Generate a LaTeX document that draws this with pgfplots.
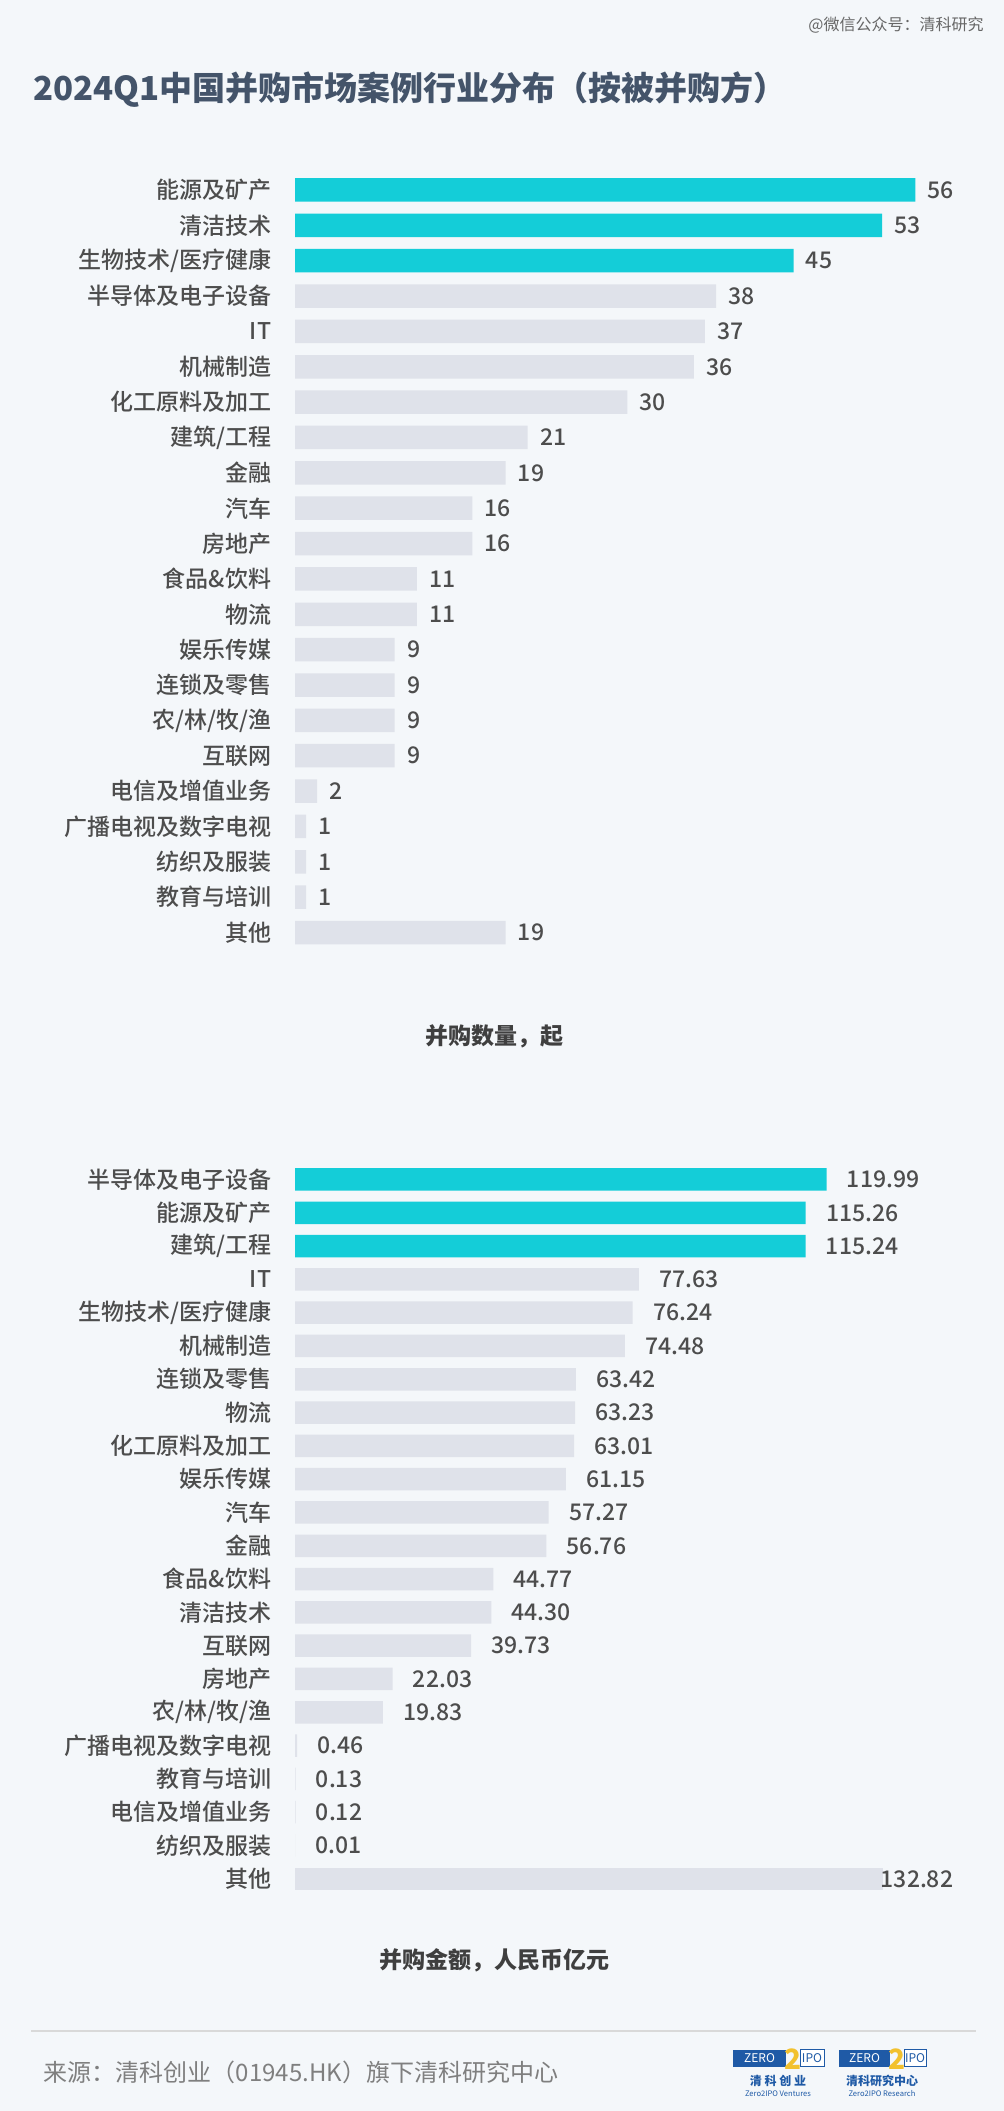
\documentclass[border=0pt]{standalone}
\usepackage{fontspec}
\setmainfont{Noto Sans CJK SC}
\newfontfamily\medfont{Noto Sans CJK SC Medium}
\usepackage{pgfplots}
\pgfplotsset{compat=1.18}
\definecolor{bgc}{HTML}{F4F7FA}
\definecolor{teal}{HTML}{14CDD8}
\definecolor{barg}{HTML}{DFE2EA}
\definecolor{labc}{HTML}{4D4D4D}
\definecolor{axc}{HTML}{3F3F3F}
\definecolor{titc}{HTML}{44546A}
\definecolor{footc}{HTML}{7F7F7F}
\definecolor{sepc}{HTML}{D9D9D9}
\definecolor{logob}{HTML}{1F5AA6}
\definecolor{logoy}{HTML}{F2C12E}
\pgfplotsset{
  mybars/.style={
    xbar, bar shift=0pt, scale only axis, clip=false,
    y dir=reverse, ymin=-0.5, ymax=21.5, ytick={0,...,21},
    xmin=0, enlargelimits=false,
    axis line style={draw=none}, tick style={draw=none},
    xtick=\empty,
    yticklabel style={font=\fontsize{11.5}{12}\selectfont\medfont, text=labc, inner sep=0pt, anchor=east, xshift=-7.5pt},
    point meta=x,
    nodes near coords,
    /pgf/number format/assume math mode=true,
    every node near coord/.append style={font=\fontsize{11.5}{12}\selectfont\medfont, text=labc, inner sep=0pt, anchor=west},
  }
}
\begin{document}
\begin{tikzpicture}
\fill[bgc] (0,0) rectangle (502pt,1055.5pt);
% watermark
\node[font=\fontsize{8}{9}\selectfont, text=black!60, anchor=center] at (448pt,1042.75pt) {@微信公众号：清科研究};
% title
\node[font=\fontsize{16.5}{18}\selectfont\bfseries, text=titc, anchor=west, inner sep=0pt] at (16.5pt,1010.5pt) {2024Q1中国并购市场案例行业分布（按被并购方）};
% top chart
\begin{axis}[mybars,
  at={(147.5pt,969.35pt)}, anchor=north west,
  width=332.4pt, height=388.96pt, xmax=60,
  bar width=0.665,
  /pgf/number format/.cd, fixed, precision=0, /pgfplots/.cd,
  every node near coord/.append style={xshift=6pt},
  yticklabels={能源及矿产,清洁技术,生物技术/医疗健康,半导体及电子设备,IT,机械制造,化工原料及加工,建筑/工程,金融,汽车,房地产,食品\&饮料,物流,娱乐传媒,连锁及零售,农/林/牧/渔,互联网,电信及增值业务,广播电视及数字电视,纺织及服装,教育与培训,其他},
]
\addplot[fill=teal, draw=none] coordinates {(56,0) (53,1) (45,2)};
\addplot[fill=barg, draw=none] coordinates {(38,3) (37,4) (36,5) (30,6) (21,7) (19,8) (16,9) (16,10) (11,11) (11,12) (9,13) (9,14) (9,15) (9,16) (2,17) (1,18) (1,19) (1,20) (19,21)};
\end{axis}
\node[font=\fontsize{11.5}{12}\selectfont\bfseries, text=axc] at (247.25pt,537.5pt) {并购数量，起};
% bottom chart
\begin{axis}[mybars,
  at={(147.5pt,474.08pt)}, anchor=north west,
  width=332.25pt, height=366.3pt, xmax=150,
  bar width=0.676,
  /pgf/number format/.cd, fixed, fixed zerofill, precision=2, /pgfplots/.cd,
  yticklabels={半导体及电子设备,能源及矿产,建筑/工程,IT,生物技术/医疗健康,机械制造,连锁及零售,物流,化工原料及加工,娱乐传媒,汽车,金融,食品\&饮料,清洁技术,互联网,房地产,农/林/牧/渔,广播电视及数字电视,教育与培训,电信及增值业务,纺织及服装,其他},
]
\addplot[fill=teal, draw=none, every node near coord/.append style={xshift=10pt}] coordinates {(119.99,0) (115.26,1) (115.24,2)};
\addplot[fill=barg, draw=none, every node near coord/.append style={xshift=10pt}] coordinates {(77.63,3) (76.24,4) (74.48,5) (63.42,6) (63.23,7) (63.01,8) (61.15,9) (57.27,10) (56.76,11) (44.77,12) (44.30,13) (39.73,14) (22.03,15) (19.83,16) (0.46,17) (0.13,18) (0.12,19) (0.01,20)};
\addplot[fill=barg, draw=none, every node near coord/.append style={xshift=-1.5pt}] coordinates {(132.82,21)};
\end{axis}
\node[font=\fontsize{11.5}{12}\selectfont\bfseries, text=axc] at (247pt,75.1pt) {并购金额，人民币亿元};
% footer
\draw[sepc, line width=1pt] (15.5pt,40pt) -- (488pt,40pt);
\node[font=\fontsize{12}{13}\selectfont, text=footc, anchor=west, inner sep=0pt] at (21.75pt,19.5pt) {来源：清科创业（01945.HK）旗下清科研究中心};
% logo 1
\fill[logob] (366.5pt,22pt) rectangle (393pt,30.5pt);
\node[font=\fontsize{6}{6}\selectfont, text=white, inner sep=0pt] at (379.75pt,26.25pt) {ZERO};
\draw[logob, fill=white, line width=0.5pt] (400pt,22pt) rectangle (412pt,30.5pt);
\node[font=\fontsize{6}{6}\selectfont, text=logob, inner sep=0pt] at (406pt,26.25pt) {IPO};
\node[font=\fontsize{14}{14}\selectfont\bfseries, text=logoy, inner sep=0pt] at (396.5pt,26pt) {2};
\node[font=\fontsize{6}{6}\selectfont\bfseries, text=logob, inner sep=0pt] at (389pt,15pt) {清 科 创 业};
\node[font=\fontsize{3.8}{4}\selectfont, text=logob, inner sep=0pt] at (389pt,8.75pt) {Zero2IPO Ventures};
% logo 2
\fill[logob] (419.5pt,22pt) rectangle (445pt,30.5pt);
\node[font=\fontsize{6}{6}\selectfont, text=white, inner sep=0pt] at (432.25pt,26.25pt) {ZERO};
\draw[logob, fill=white, line width=0.5pt] (452pt,22pt) rectangle (463pt,30.5pt);
\node[font=\fontsize{6}{6}\selectfont, text=logob, inner sep=0pt] at (457.5pt,26.25pt) {IPO};
\node[font=\fontsize{14}{14}\selectfont\bfseries, text=logoy, inner sep=0pt] at (448.5pt,26pt) {2};
\node[font=\fontsize{6}{6}\selectfont\bfseries, text=logob, inner sep=0pt] at (441pt,15pt) {清科研究中心};
\node[font=\fontsize{3.8}{4}\selectfont, text=logob, inner sep=0pt] at (441pt,8.75pt) {Zero2IPO Research};
\end{tikzpicture}
\end{document}
